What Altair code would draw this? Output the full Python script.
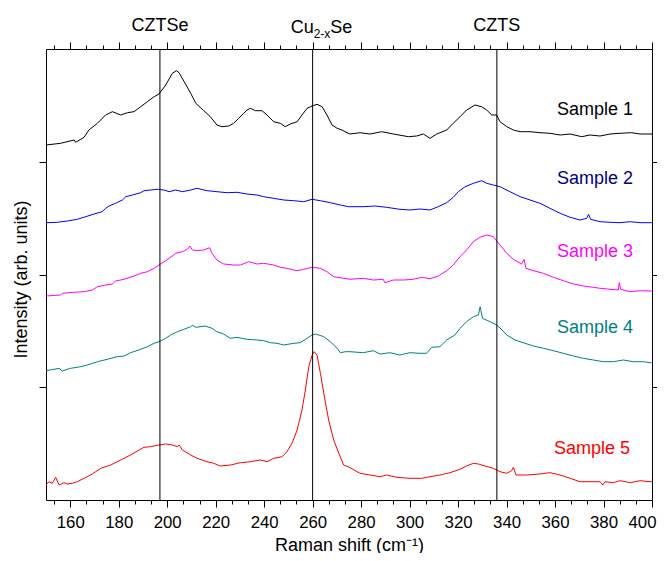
import altair as alt
import pandas as pd

FONT = "Liberation Sans"

# ---------------- data ----------------
sample_names = ["Sample 1", "Sample 2", "Sample 3", "Sample 4", "Sample 5"]
line_colors = ["#000000", "#0000FF", "#FF00FF", "#008080", "#FF0000"]
label_colors = ["#000000", "#000080", "#FF00FF", "#008080", "#FF0000"]
label_x = [392.2, 392.2, 392.2, 392.2, 390.9]
label_y = [385, 316, 243.3, 167.3, 46]

s1_x = [150, 156, 161.6, 162.2, 165.7, 167.7, 171.2, 174.6, 177.4, 180.8,
        183.6, 186.3, 189.1, 191.8, 194.6, 196.6, 199.4, 202.1, 203.8, 204.9,
        207.0, 209.7, 211.8, 215.1, 217.8, 220.5, 222.6, 225.4, 227.4, 229.5,
        231.6, 232.9, 234.3, 236.4, 239.1, 241.2, 243.9, 246.7, 248.7, 250.8,
        253.6, 255.6, 257.7, 259.8, 261.8, 263.9, 265.9, 268.0, 270.1, 272.1,
        274.2, 275.4, 279.5, 283.7, 288.5, 293.3, 299.5, 302.9, 305.7, 308.4,
        311.2, 315.3, 318.0, 320.8, 323.5, 327.0, 329.7, 331.8, 333.9, 335.9,
        337.3, 340.1, 342.8, 345.6, 349.7, 353.8, 357.9, 362.1, 366.2, 371.0,
        374.4, 378.6, 382.7, 386.8, 391.6, 395.1, 399.2, 400]
s1_y = [355, 356.7, 360, 357.7, 362.7, 370, 376.7, 385, 388.3, 385,
        387.3, 388.3, 393.3, 398.3, 403.3, 406, 415, 426.7, 429.3, 427.3,
        418.3, 406.7, 396.7, 389.3, 383.3, 375, 373.3, 374, 376.7, 381.7,
        386.7, 390, 391.7, 389.3, 389.3, 385, 378.3, 376.7, 373.3, 376,
        378.3, 385, 391.7, 394, 395.7, 393.3, 385, 375, 371.7, 370,
        367.3, 366, 367.3, 366, 368.3, 366, 363.3, 364, 366, 361.7,
        366, 370, 376.7, 383.3, 390, 395, 393.3, 390, 385, 385,
        378.3, 373.3, 370, 368.3, 368.3, 367.3, 366.7, 365, 366, 363.3,
        365, 364, 366, 366.7, 367.3, 366, 366, 366]

s2_x = [150, 154.7, 158.8, 162.9, 166.4, 169.8, 173.2, 174.6, 176.0, 178.7,
        181.5, 182.9, 185.6, 189.1, 190.4, 193.2, 195.9, 198.7, 200.8, 203.5,
        206.3, 209.7, 212.3, 216.4, 220.5, 224.7, 228.8, 232.9, 237.1, 239.8,
        243.9, 248.1, 252.2, 256.3, 259.8, 263.2, 267.3, 271.4, 274.9, 280.9,
        285.7, 290.5, 296.0, 300.2, 304.3, 308.4, 311.8, 315.3, 318.0, 320.1,
        322.9, 326.3, 329.7, 331.8, 334.5, 337.3, 341.4, 345.6, 349.7, 353.8,
        357.9, 362.1, 366.2, 370.3, 373.1, 373.8, 374.7, 378.6, 382.7, 386.8,
        391.0, 395.1, 399.2, 400]
s2_y = [277.3, 277.7, 279, 280.7, 283.3, 286, 288.3, 291.7, 294, 296.7,
        300, 303.3, 305, 307.3, 309.3, 310, 310.7, 310, 308.3, 310,
        308.3, 310, 311.7, 309.3, 308.3, 307.3, 307.7, 306, 305, 303.3,
        301.7, 300, 299.3, 298.3, 300.7, 299.3, 297.3, 295, 293.3, 293.3,
        294, 292.7, 290.7, 290, 291, 290, 293.3, 297.3, 302.7, 308.3,
        313.3, 316.7, 319.3, 316.7, 315, 313.3, 308.3, 303.3, 300, 296.7,
        291.7, 286.7, 282.7, 280, 281.7, 285.7, 280.7, 278.3, 277.7, 277.3,
        278.3, 277.3, 277.3, 277.3]

s3_x = [150, 156, 156.7, 161.6, 165.7, 169.1, 171.2, 174.6, 177.4, 178.7,
        182.2, 186.3, 189.1, 191.8, 194.6, 196.6, 198.7, 200.8, 203.5, 206.3,
        208.3, 209.4, 210.4, 212.3, 215.1, 217.5, 218.5, 220.5, 223.3, 227.4,
        230.2, 233.6, 237.1, 239.8, 243.9, 246.7, 249.4, 253.6, 256.3, 259.8,
        263.2, 265.9, 268.7, 272.8, 275.4, 280.9, 285.0, 289.1, 289.8, 293.3,
        297.4, 301.5, 305.0, 308.4, 311.8, 315.3, 318.0, 320.8, 323.5, 326.3,
        329.0, 331.8, 334.5, 337.3, 340.1, 342.8, 346.2, 347.2, 348.0, 351.1,
        355.2, 359.3, 363.4, 367.6, 371.7, 375.8, 378.6, 382.7, 386.1, 386.5,
        387.1, 390.9, 395.1, 399.2, 400]
s3_y = [204, 205, 206.7, 207.7, 208.3, 210, 213.3, 215, 216, 219,
        220.7, 224, 226.7, 228.3, 231.7, 235, 238.3, 241.7, 246.7, 248.3,
        250.7, 254, 250, 249.3, 250, 252.3, 246.7, 240, 236, 235,
        235, 238.3, 236, 236.7, 235, 232.7, 231.7, 229.3, 230.7, 232.7,
        231.7, 228.3, 223.3, 221.7, 220.7, 221.7, 220, 220.7, 217.3, 220,
        220, 220.7, 222.7, 221.3, 224, 229.3, 235, 243.3, 250, 258.3,
        262.7, 265, 263.3, 255, 246.7, 240.7, 236, 240.7, 231.7, 229.3,
        226.7, 222.7, 219.3, 216, 214, 212.7, 211.7, 210.7, 210, 217.3,
        210.7, 208.3, 209.3, 209, 209]

s4_x = [150, 153.3, 155.4, 156.7, 160.2, 164.3, 167.1, 171.2, 175.3, 179.4,
        182.2, 184.9, 189.1, 191.8, 194.6, 196.6, 199.4, 201.4, 204.2, 206.9,
        209.7, 210.4, 211.8, 215.7, 218.5, 220.5, 223.3, 226.0, 228.8, 232.9,
        237.1, 239.8, 242.6, 245.3, 248.1, 252.2, 254.9, 257.7, 259.8, 261.1,
        262.5, 264.6, 267.3, 270.1, 271.4, 273.5, 275.4, 280.9, 285.0, 287.8,
        291.9, 296.0, 300.2, 304.3, 307.0, 309.1, 312.5, 315.3, 318.7, 320.8,
        323.5, 326.3, 328.4, 329.1, 330.1, 333.2, 335.9, 337.3, 340.1, 343.5,
        347.6, 351.1, 355.2, 359.3, 363.4, 367.6, 371.7, 375.8, 379.9, 384.1,
        388.2, 392.3, 396.5, 399.2, 400]
s4_y = [129.3, 130.7, 131.7, 129, 131.7, 133.3, 135, 138.3, 140.7, 143.3,
        144, 147.3, 150.7, 153.3, 156.7, 158.3, 161.7, 165, 168.3, 170.7,
        173.3, 174.7, 172.7, 174, 171.7, 168.3, 166, 161.7, 162.7, 160.7,
        160, 159.3, 157.3, 156.7, 155, 156.7, 157.3, 161.7, 165, 166,
        165, 163.3, 158.3, 151.7, 147.3, 148.3, 148.3, 147.3, 149.3, 146,
        147.3, 145, 147.3, 146.7, 146.7, 152.7, 153.3, 160, 165, 171.7,
        178.3, 183.3, 185, 193.3, 181.7, 178.3, 175, 172, 165, 160,
        156.7, 154, 151.7, 149.3, 146.7, 144, 141.7, 140, 138.3, 138.3,
        140, 138.3, 138.3, 137.3, 137.3]

s5_x = [150, 151.2, 152.6, 154.0, 155.4, 157.4, 158.8, 160.9, 162.9, 165.7,
        169.1, 172.6, 176.7, 180.8, 184.9, 188.4, 190.4, 193.2, 196.6, 199.4,
        202.1, 204.2, 204.9, 206.3, 209.7, 212.3, 216.4, 219.2, 221.9, 226.1,
        230.2, 234.3, 238.4, 241.2, 243.9, 247.4, 249.4, 251.5, 253.6, 255.6,
        257.0, 258.4, 259.8, 260.7, 261.8, 263.2, 264.6, 266.6, 268.7, 270.8,
        272.8, 274.9, 279.5, 283.7, 287.8, 290.5, 294.7, 300.2, 305.0, 308.4,
        312.5, 316.7, 320.8, 323.5, 326.3, 328.4, 331.1, 334.5, 337.3, 340.1,
        342.1, 342.8, 343.9, 348.3, 353.8, 357.9, 362.1, 366.2, 370.3, 374.4,
        378.6, 379.7, 380.6, 384.1, 386.8, 391.0, 395.1, 399.2, 400]
s5_y = [15, 18.3, 16.7, 22.7, 15, 17.3, 16, 16.7, 18.3, 21.7,
        26, 31.7, 35, 40, 45, 50, 52.7, 53.3, 55, 56,
        55, 53.3, 55, 50, 45, 41.7, 38.3, 36.7, 34, 35,
        37.3, 38.3, 40, 38.3, 41.7, 43.3, 48.3, 56.7, 70, 90,
        110, 133.3, 145, 148.3, 145, 126.7, 106.7, 80, 60, 46.7,
        35, 33, 26.7, 25, 23.3, 25, 22.7, 21.7, 21.7, 23.3,
        25, 27.3, 30.7, 34, 36.7, 36, 34, 31.7, 28.3, 26.7,
        29.3, 32.7, 25, 25, 26, 27.3, 25, 21.7, 18.3, 18.3,
        18.3, 15, 18.3, 17.3, 19.3, 17.3, 19.3, 18.3, 18.3]

ref_pos = [197, 336]
ref_names = ["CZTSe", "CZTS"]
cu_pos = [260]
all_ref_pos = [197, 260, 336]

x_major = [160, 180, 200, 220, 240, 260, 280, 300, 320, 340, 360, 380, 400]
x_minor = [153.33, 166.67, 173.33, 186.67, 193.33, 206.67, 213.33, 226.67,
           233.33, 246.67, 253.33, 266.67, 273.33, 286.67, 293.33, 306.67,
           313.33, 326.67, 333.33, 346.67, 353.33, 366.67, 373.33, 386.67,
           393.33]
y_ticks = [112.75, 225.5, 338.25]

# ---------------- tables ----------------
series = [(s1_x, s1_y), (s2_x, s2_y), (s3_x, s3_y), (s4_x, s4_y), (s5_x, s5_y)]
rows = []
for name, (xs, ys) in zip(sample_names, series):
    for xv, yv in zip(xs, ys):
        rows.append({"x": xv, "y": yv, "sample": name})
df_lines = pd.DataFrame(rows)

df_labels = pd.DataFrame({"lx": label_x, "ly": label_y,
                          "text": sample_names, "tcolor": label_colors})
df_rules = pd.DataFrame({"pos": all_ref_pos})
df_ann = pd.DataFrame({"pos": ref_pos, "name": ref_names})
df_cu = pd.DataFrame({"pos": cu_pos})

x_ticks = sorted(x_major + x_minor)
x_scale = alt.Scale(domain=[150, 400], nice=False, zero=False)
y_scale = alt.Scale(domain=[0, 451], nice=False, zero=False)
tick_len = {"condition": {"test": "datum.value % 20 === 0", "value": 7}, "value": 4}

lines = alt.Chart(df_lines).mark_line(strokeWidth=1).encode(
    x=alt.X("x:Q", scale=x_scale, axis=alt.Axis(
        orient="bottom", values=x_ticks,
        labelExpr="datum.value % 20 === 0 ? datum.label : ''",
        labelFlush=True, labelFlushOffset=4, labelOverlap=False,
        labelFontSize=16.8, labelPadding=7, tickSize=tick_len,
        title="Raman shift (cm\u207b\u00b9)", titleFontSize=18,
        titleFontWeight="normal", titleY=50, titleBaseline="alphabetic")),
    y=alt.Y("y:Q", scale=y_scale, axis=alt.Axis(
        orient="left", values=y_ticks, labels=False, tickSize=7,
        title="Intensity (arb. units)", titleFontSize=18,
        titleFontWeight="normal", titleX=-20, titleY=230,
        titleBaseline="alphabetic")),
    color=alt.Color("sample:N", scale=alt.Scale(domain=sample_names, range=line_colors),
                    legend=None),
)

labels = alt.Chart(df_labels).mark_text(
    font=FONT, fontSize=18, align="right", baseline="alphabetic"
).encode(
    x=alt.X("lx:Q", scale=x_scale, axis=alt.Axis(
        orient="top", values=x_ticks, labels=False, tickSize=tick_len, title=None)),
    y=alt.Y("ly:Q", scale=y_scale, axis=alt.Axis(
        orient="right", values=y_ticks, labels=False, tickSize=6, title=None)),
    text="text:N",
    color=alt.Color("tcolor:N", scale=None),
)

rules = alt.Chart(df_rules).mark_rule(color="black", strokeWidth=1).encode(
    x=alt.X("pos:Q", scale=x_scale, axis=None)
)

ann = alt.Chart(df_ann).mark_text(
    font=FONT, fontSize=18, align="center", baseline="alphabetic", color="black"
).encode(
    x=alt.X("pos:Q", scale=x_scale, axis=None),
    y=alt.value(-18),
    text="name:N",
)

cu1 = alt.Chart(df_cu).mark_text(
    font=FONT, fontSize=18, align="left", baseline="alphabetic", color="black", dx=-22
).encode(x=alt.X("pos:Q", scale=x_scale, axis=None), y=alt.value(-16), text=alt.value("Cu"))

cu2 = alt.Chart(df_cu).mark_text(
    font=FONT, fontSize=12, align="left", baseline="alphabetic", color="black", dx=1
).encode(x=alt.X("pos:Q", scale=x_scale, axis=None), y=alt.value(-11), text=alt.value("2-x"))

cu3 = alt.Chart(df_cu).mark_text(
    font=FONT, fontSize=18, align="left", baseline="alphabetic", color="black", dx=17.5
).encode(x=alt.X("pos:Q", scale=x_scale, axis=None), y=alt.value(-16), text=alt.value("Se"))

chart = alt.layer(lines, rules, labels, ann, cu1, cu2, cu3).resolve_axis(
    x="independent", y="independent"
).properties(
    width=606, height=451,
    autosize=alt.AutoSizeParams(type="none"),
    padding={"left": 38, "top": 41, "right": 5, "bottom": 53},
).configure_axis(
    domainColor="black", tickColor="black", labelColor="black", titleColor="black",
    labelFont=FONT, titleFont=FONT, domainWidth=1, tickWidth=1, grid=False,
).configure_view(stroke=None)

chart.save("out.html", embed_options={"renderer": "svg", "actions": False})
